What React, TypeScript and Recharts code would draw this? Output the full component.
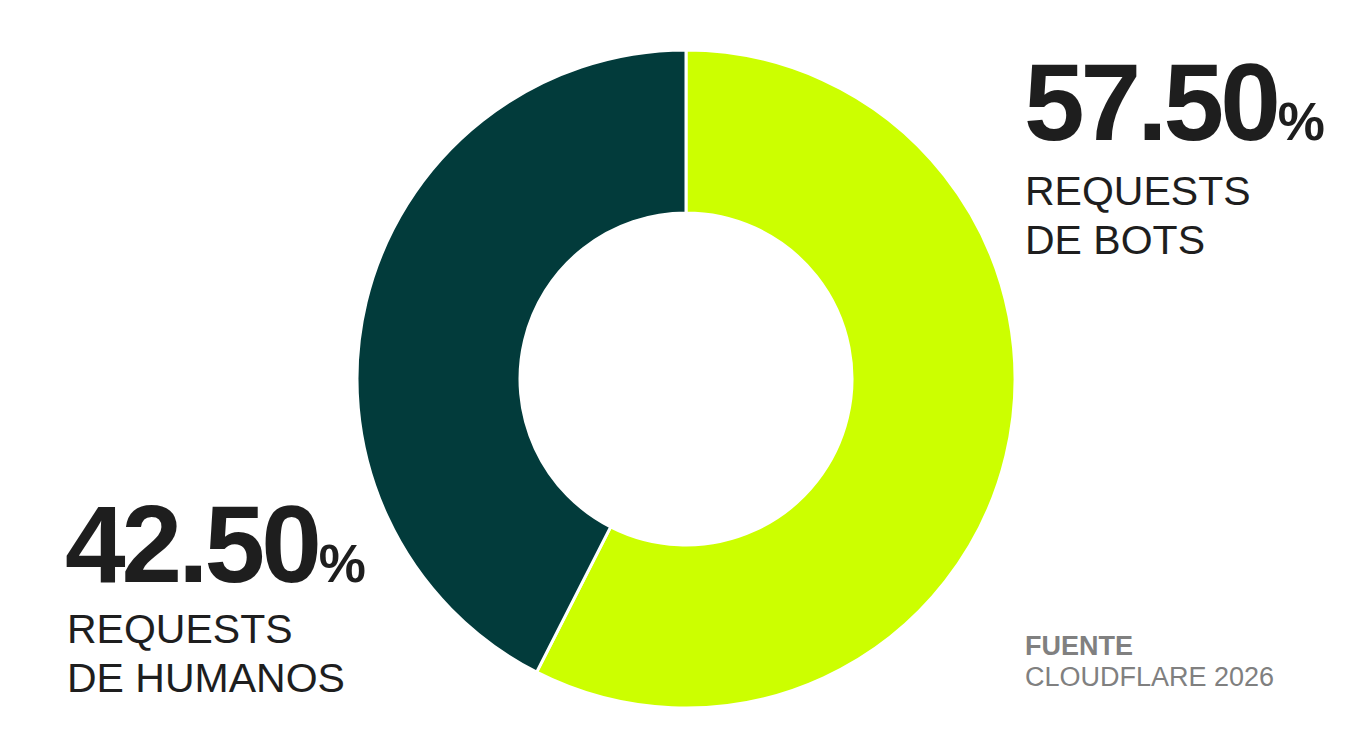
import { Pie, PieChart, Cell } from "recharts";

const categories = ["REQUESTS DE BOTS", "REQUESTS DE HUMANOS"];
const shares = [57.5, 42.5];
const colors = ["#CCFF00", "#023B3B"];
const sourceLines = ["FUENTE", "CLOUDFLARE 2026"];

const data = categories.map((name, i) => ({ name, value: shares[i] }));

const font = "'Liberation Sans', Arial, Helvetica, sans-serif";
const ink = "#1e1e1e";

const BigValue = ({ x, y, value }: { x: number; y: number; value: number }) => (
  <text x={x} y={y} fill={ink} fontFamily={font} fontWeight={700}>
    <tspan fontSize={109} letterSpacing={-4}>
      {value.toFixed(2)}
    </tspan>
    <tspan fontSize={53} dx={1}>
      %
    </tspan>
  </text>
);

const Caption = ({ x, y, lines }: { x: number; y: number; lines: string[] }) => (
  <text x={x} y={y} fill={ink} fontFamily={font} fontSize={41}>
    {lines.map((l, i) => (
      <tspan key={i} x={x} dy={i === 0 ? 0 : 49}>
        {l}
      </tspan>
    ))}
  </text>
);

export default function App() {
  return (
    <div
      style={{
        position: "absolute",
        left: 0,
        top: 0,
        width: 1359,
        height: 733,
        background: "#fff",
      }}
    >
      <PieChart width={1359} height={733} margin={{ top: 0, right: 0, bottom: 0, left: 0 }}>
        <Pie
          data={data}
          dataKey="value"
          cx={686}
          cy={379}
          innerRadius={166}
          outerRadius={329}
          startAngle={90}
          endAngle={-270}
          stroke="#ffffff"
          strokeWidth={3}
          isAnimationActive={false}
        >
          {data.map((d, i) => (
            <Cell key={d.name} fill={colors[i]} />
          ))}
        </Pie>
      </PieChart>
      <svg
        width={1359}
        height={733}
        style={{ position: "absolute", left: 0, top: 0, pointerEvents: "none" }}
      >
        <BigValue x={1024} y={140} value={shares[0]} />
        <Caption x={1025} y={205} lines={["REQUESTS", "DE BOTS"]} />
        <BigValue x={65} y={582} value={shares[1]} />
        <Caption x={67} y={643} lines={["REQUESTS", "DE HUMANOS"]} />
        <text x={1025} y={655} fill="#808080" fontFamily={font} fontSize={27} fontWeight={700}>
          {sourceLines[0]}
        </text>
        <text x={1025} y={686} fill="#808080" fontFamily={font} fontSize={27}>
          {sourceLines[1]}
        </text>
      </svg>
    </div>
  );
}
